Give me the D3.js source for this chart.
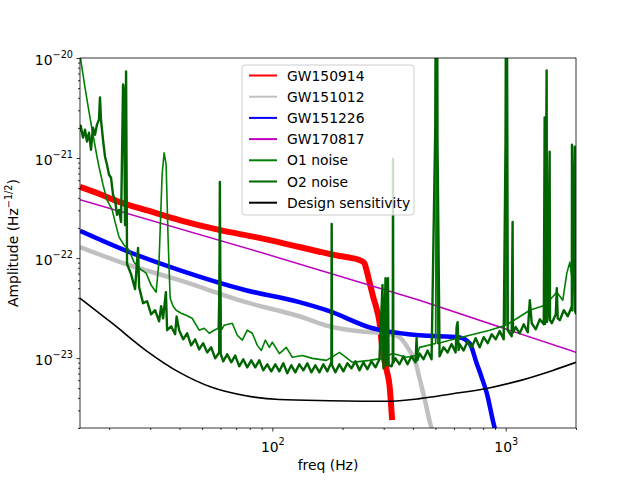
<!DOCTYPE html>
<html>
<head>
<meta charset="utf-8">
<script src="https://cdn.jsdelivr.net/npm/d3@7"></script>
<style>
  body { margin: 0; background: #fff; overflow: hidden; }
  svg { display: block; }
  text { font-family: "DejaVu Sans", sans-serif; }
</style>
</head>
<body>
<div id="chart"></div>
<script>
// frequency (Hz), amplitude (Hz^-1/2) pairs
const gw150914 = [[15,5.15e-22],[18.09,4.4e-22],[22.05,3.65e-22],[29.66,2.96e-22],[40,2.4e-22],[59.2,1.91e-22],[88,1.59e-22],[130.6,1.29e-22],[194,1.05e-22],[220,1.0e-22],[236,9.55e-23],[248,8.9e-23],[252,7.94e-23],[261,5.7e-23],[271.4,3.97e-23],[279.5,3.15e-23],[287.9,2.28e-23],[296.5,1.19e-23],[309,7.53e-24],[317.8,5.32e-24],[326,2.4e-24]];
const gw151012 = [[15,1.29e-22],[24.33,8.5e-23],[40,6.02e-23],[77,3.62e-23],[130.6,2.62e-23],[175.7,2.08e-23],[236,1.85e-23],[309,1.77e-23],[351,1.61e-23],[387,1.19e-23],[411,9.06e-24],[427.5,6.25e-24],[449,3.93e-24],[481,2.0e-24],[490,1.8e-24]];
const gw151226 = [[15,1.87e-22],[24.33,1.15e-22],[40,7.58e-23],[77,4.77e-23],[130.6,3.62e-23],[175.7,2.94e-23],[261,2.03e-23],[427.5,1.69e-23],[635,1.61e-23],[701,1.4e-23],[751,8.85e-24],[789,6.4e-24],[829,4.5e-24],[897,2.0e-24],[910,1.8e-24]];
const gw170817 = [[15,3.83e-22],[88,1.15e-22],[427,3.79e-23],[2000,1.14e-23]];
const o1Noise = [[15,1.37e-20],[15.1,9.7e-21],[15.76,5.07e-21],[16.39,2.91e-21],[17.05,1.71e-21],[17.74,1.03e-21],[18.09,8.18e-22],[18.82,5.4e-22],[19.58,3.82e-22],[20.6,3.03e-22],[21.2,2.3e-22],[22.05,1.62e-22],[23.17,1.35e-22],[24.33,1.2e-22],[25.56,9.1e-23],[26.87,7.94e-23],[28.79,7.07e-23],[30.25,5.37e-23],[31.78,4.56e-23],[32.73,9.55e-23],[33.72,6.8e-22],[34.39,1.13e-21],[35.08,8.57e-22],[35.78,1.52e-22],[36.5,3.97e-23],[37.6,3.3e-23],[38.73,3.01e-23],[40.68,2.81e-23],[42.74,2.68e-23],[45.35,2.5e-23],[48.6,1.9e-23],[51.07,1.99e-23],[53.66,1.77e-23],[56.37,1.9e-23],[58.64,1.99e-23],[59.6,1.2e-22],[60.4,1.9e-23],[62.2,2.13e-23],[67.34,2.23e-23],[70.77,1.69e-23],[74.35,1.51e-23],[78.12,1.9e-23],[82.08,1.77e-23],[86.23,1.34e-23],[89.71,1.19e-23],[93.3,1.51e-23],[97.1,1.28e-23],[100,1.44e-23],[107.2,1.11e-23],[114.8,1.28e-23],[121.8,1.02e-23],[134.5,1.06e-23],[148.5,9.93e-24],[170.5,9.48e-24],[194,1.14e-23],[220.4,9.06e-24],[260.8,9.48e-24],[296.5,9.93e-24],[327.3,1.11e-23],[376,1.02e-23],[415,1.06e-23],[427.5,1.28e-23],[500.5,1.4e-23],[505.5,3e-20],[510.5,1.4e-23],[575,1.51e-23],[701,1.69e-23],[854,1.9e-23],[1000,2.13e-23],[1010,3e-20],[1020,2.18e-23],[1268,3.01e-23],[1471,3.38e-23],[1655,4.56e-23],[1756,3.79e-23],[1827,7.07e-23],[1882,9.1e-23],[1940,5.37e-23],[2000,6.75e-23]];
const o2Noise = [
  [15,1.84e-21],[15.1,2.11e-21],[15.45,1.6e-21],[15.76,1.92e-21],[16.07,1.46e-21],[16.39,1.79e-21],[16.72,1.21e-21],[17.05,2.01e-21],[17.39,1.71e-21],[17.74,2.16e-21],[18.09,2.42e-21],[18.27,4.03e-21],[18.45,2.42e-21],[18.82,1.53e-21],[19.2,1.03e-21],[19.58,8.57e-22],[19.97,6.8e-22],[20.37,6.35e-22],[20.78,4.28e-22],[21.2,3.82e-22],[21.61,2.7e-22],[22.05,3.03e-22],[22.49,2.3e-22],[22.94,5.44e-21],[23.17,4.62e-21],[23.39,2.14e-22],[23.63,7.34e-21],
  [23.86,8.71e-23],[24.82,6.91e-23],[25.82,4.89e-23],[26.6,1.26e-22],[26.87,5.12e-23],[27.95,3.54e-23],[29.08,3.7e-23],[30.25,2.74e-23],[31.47,3.01e-23],[32.73,2.33e-23],[33.4,3.3e-23],[34.05,2.5e-23],[35.0,4.56e-23],[35.43,1.9e-23],[36.86,2.08e-23],[38.34,1.73e-23],[38.9,2.6e-23],[39.89,1.9e-23],[41.5,1.54e-23],[43.17,1.77e-23],[44.91,1.34e-23],[46.72,1.54e-23],[48.6,1.22e-23],[50.56,1.41e-23],[52.6,1.14e-23],[54.72,1.28e-23],[56.93,9.95e-24],[59.22,1.14e-23],[59.6,5.78e-22],[60.1,1.1e-23],
  [61.61,9.28e-24],[64.09,1.09e-23],[66.67,9.07e-24],[69.36,1.06e-23],[72.16,8.27e-24],[75.07,9.72e-24],[78.09,8.08e-24],[81.24,9.5e-24],[84.51,8.08e-24],[87.92,9.5e-24],[91.46,7.54e-24],[95.15,8.66e-24],[98.98,7.37e-24],[102.97,8.66e-24],[107.12,7.37e-24],[111.44,8.87e-24],[115.93,7.04e-24],[120.61,8.47e-24],[125.47,7.2e-24],[130.53,8.66e-24],[135.79,7.54e-24],[141.27,8.87e-24],[146.96,7.2e-24],[152.89,8.47e-24],[159.05,7.2e-24],[165.47,8.66e-24],[172.14,7.37e-24],[179.08,9.07e-24],[179.6,2.19e-22],[180.2,8.5e-24],[186.3,7.2e-24],[193.81,8.66e-24],[201.63,7.37e-24],[209.76,8.87e-24],[218.22,7.9e-24],[227.02,9.28e-24],[236.17,7.54e-24],[245.69,9.07e-24],[255.6,7.72e-24],[265.91,9.28e-24],[276.63,8.08e-24],[287.78,9.72e-24],[296.5,5.37e-23],[299.39,7.9e-24],[305.5,6.3e-23],[308,8.5e-24],[311.46,9.5e-24],[313,6.3e-23],[315,8.5e-24],[324.02,8.27e-24],[328.0,9.0e-24],[328.9,9.8e-22],[329.8,9.0e-24],[337.08,9.95e-24],[350.68,8.66e-24],[364.82,1.04e-23],[379.53,8.66e-24],[394.83,1.04e-23],[410.75,9.07e-24],[415,1.58e-23],[418,9.5e-24],[427.32,1.11e-23],[444.55,9.72e-24],[462.47,1.19e-23],[481.12,9.72e-24],[499,2e-21],[501,3e-20],[509,3e-20],[510,1.5e-21],
  [520.7,1.04e-23],[541.7,1.28e-23],[563.54,1.14e-23],[586.26,1.38e-23],[609.9,1.14e-23],[616,2.03e-23],[622,2.28e-23],[628,1.2e-23],[634.5,1.38e-23],[660.08,1.19e-23],[686.7,1.47e-23],[714.39,1.28e-23],[743.2,1.58e-23],[773.16,1.28e-23],[804.34,1.62e-23],[836.77,1.41e-23],[870.51,1.73e-23],[905.61,1.54e-23],[942.13,1.86e-23],[980.12,1.54e-23],[998,1.5e-21],[1002,3e-20],[1012,3e-20],[1016,1.5e-21],[1019.6,1.9e-23],[1060.8,1.65e-23],[1070,2.3e-22],[1074,1.8e-23],[1103.6,2.04e-23],[1148.1,1.77e-23],[1194.4,2.18e-23],[1242.5,1.81e-23],[1268,3.79e-23],[1292.6,2.23e-23],[1344.8,1.94e-23],[1399,2.44e-23],[1455.4,2.18e-23],[1468,2.54e-21],[1475,2.2e-23],[1497,7.5e-21],[1503,2.3e-23],[1514.1,2.68e-23],[1542,1.16e-21],[1548,2.4e-23],[1575.2,2.23e-23],[1638.7,2.74e-23],[1655,5.0e-23],[1670,2.5e-23],[1704.8,2.39e-23],[1773.5,3.01e-23],[1845,2.62e-23],[1919.4,3.3e-23],[1922,1.36e-21],[1926,3.0e-23],[1975,1.3e-21],[1980,3.0e-23],[2000,2.74e-23]
];
const designSens = [[15,3.97e-23],[20.6,2.23e-23],[28.79,1.19e-23],[40,7.19e-24],[55,5.1e-24],[77,4.2e-24],[107,3.85e-24],[176,3.75e-24],[309,3.7e-24],[427.5,3.93e-24],[592,4.4e-24],[829,4.97e-24],[1148,5.95e-24],[1591,7.53e-24],[2000,9.06e-24]];

const seriesNames = ['GW150914', 'GW151012', 'GW151226', 'GW170817', 'O1 noise', 'O2 noise', 'Design sensitivity'];
const seriesData = [gw150914, gw151012, gw151226, gw170817, o1Noise, o2Noise, designSens];
const seriesColors = ['#ff0000', '#c0c0c0', '#0000ff', '#bf00bf', '#008000', '#006400', '#000000'];
const seriesWidths = [6, 4.5, 4.5, 1.5, 1.6, 2.4, 1.6];
const smoothSeries = [true, true, true, false, false, false, true];

const xMajor = [100, 1000];
const xMinor = [20, 30, 40, 50, 60, 70, 80, 90, 200, 300, 400, 500, 600, 700, 800, 900, 2000];
const yMajor = [1e-23, 1e-22, 1e-21, 1e-20];
const yMinor = [];
[1e-24, 1e-23, 1e-22, 1e-21].forEach(d => {
  for (let k = 2; k <= 9; k++) {
    const v = k * d;
    if (v >= 2e-24 && v < 1e-20) yMinor.push(v);
  }
});

const width = 640, height = 480;
const margin = {top: 58, right: 64, bottom: 52, left: 80};
const innerWidth = width - margin.left - margin.right;
const innerHeight = height - margin.top - margin.bottom;
const fontSize = 13.9;

const svg = d3.select('#chart').append('svg')
  .attr('width', width)
  .attr('height', height);

svg.append('rect').attr('width', width).attr('height', height).attr('fill', '#fff');

const xScale = d3.scaleLog().domain([15, 2000]).range([0, innerWidth]);
const yScale = d3.scaleLog().domain([2e-24, 1e-20]).range([innerHeight, 0]);

const g = svg.append('g').attr('transform', `translate(${margin.left},${margin.top})`);

g.append('clipPath').attr('id', 'plot-clip')
  .append('rect').attr('width', innerWidth).attr('height', innerHeight);

const plot = g.append('g').attr('clip-path', 'url(#plot-clip)');

seriesData.forEach((data, i) => {
  const line = d3.line()
    .x(d => xScale(d[0]))
    .y(d => yScale(d[1]))
    .curve(smoothSeries[i] ? d3.curveMonotoneX : d3.curveLinear);
  plot.append('path')
    .datum(data)
    .attr('fill', 'none')
    .attr('stroke', seriesColors[i])
    .attr('stroke-width', seriesWidths[i])
    .attr('stroke-linejoin', 'round')
    .attr('d', line);
});

// 10^n labels with superscript
function powLabel(text, exp) {
  text.text(null);
  text.append('tspan').text('10');
  text.append('tspan').attr('dy', -7).attr('font-size', 9.7).text(exp);
}

// x axis: minor ticks, then major ticks with labels
const xMinorG = g.append('g').attr('transform', `translate(0,${innerHeight})`)
  .call(d3.axisBottom(xScale).tickValues(xMinor).tickSize(2).tickFormat(''));
xMinorG.selectAll('text').remove();
const xAxisG = g.append('g').attr('transform', `translate(0,${innerHeight})`)
  .call(d3.axisBottom(xScale).tickValues(xMajor).tickSize(3.5).tickFormat(''));
xAxisG.selectAll('text')
  .attr('y', 24)
  .attr('dy', null)
  .attr('fill', '#000')
  .attr('font-size', fontSize)
  .each(function (d) { powLabel(d3.select(this), String(Math.round(Math.log10(d)))); });

// y axis
const yMinorG = g.append('g')
  .call(d3.axisLeft(yScale).tickValues(yMinor).tickSize(2).tickFormat(''));
yMinorG.selectAll('text').remove();
const yAxisG = g.append('g')
  .call(d3.axisLeft(yScale).tickValues(yMajor).tickSize(3.5).tickFormat(''));
yAxisG.selectAll('text')
  .attr('x', -7)
  .attr('dy', null)
  .attr('y', 6)
  .attr('fill', '#000')
  .attr('font-size', fontSize)
  .attr('text-anchor', 'end')
  .each(function (d) { powLabel(d3.select(this), '\u2212' + Math.round(-Math.log10(d))); });

[xMinorG, xAxisG, yMinorG, yAxisG].forEach(a => {
  a.selectAll('.domain').remove();
  a.selectAll('line').attr('stroke', '#000').attr('stroke-width', 0.8);
});

g.append('rect')
  .attr('width', innerWidth)
  .attr('height', innerHeight)
  .attr('fill', 'none')
  .attr('stroke', '#000')
  .attr('stroke-width', 0.8);

g.append('text')
  .attr('x', innerWidth / 2)
  .attr('y', innerHeight + 42)
  .attr('text-anchor', 'middle')
  .attr('font-size', fontSize)
  .text('freq (Hz)');

const yLabel = svg.append('text')
  .attr('transform', `translate(18,${margin.top + innerHeight / 2}) rotate(-90)`)
  .attr('text-anchor', 'middle')
  .attr('font-size', fontSize);
yLabel.append('tspan').text('Amplitude (Hz');
yLabel.append('tspan').attr('dy', -6).attr('font-size', 9.7).text('\u22121/2');
yLabel.append('tspan').attr('dy', 6).text(')');

// legend
const legend = svg.append('g').attr('transform', 'translate(242,65)');
legend.append('rect')
  .attr('width', 172)
  .attr('height', 150)
  .attr('rx', 3)
  .attr('fill', '#fff')
  .attr('fill-opacity', 0.8)
  .attr('stroke', '#cccccc')
  .attr('stroke-width', 1);

seriesNames.forEach((name, i) => {
  const row = legend.append('g').attr('transform', `translate(0,${10.5 + i * 21.2})`);
  row.append('line')
    .attr('x1', 7).attr('x2', 35)
    .attr('stroke', seriesColors[i])
    .attr('stroke-width', 2);
  row.append('text')
    .attr('x', 45)
    .attr('y', 5)
    .attr('font-size', fontSize)
    .text(name);
});
</script>
</body>
</html>
